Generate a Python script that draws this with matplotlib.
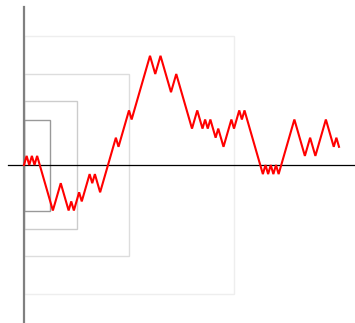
import matplotlib
matplotlib.use("Agg")
import matplotlib.pyplot as plt
from matplotlib.patches import Rectangle

# turning points of the walk (step index, position); each step is +-1
turn_steps = [0, 1, 2, 3, 4, 5, 11, 14, 17, 18, 19, 21, 22, 25, 26, 27, 29,
              35, 36, 40, 41, 48, 50, 52, 56, 58, 64, 66, 68, 69, 70, 71, 73,
              74, 76, 79, 80, 82, 83, 84, 91, 92, 93, 94, 95, 96, 97, 103,
              107, 109, 111, 115, 118, 119, 120]
turn_values = [0, 1, 0, 1, 0, 1, -5, -2, -5, -4, -5, -3, -4, -1, -2, -1, -3,
               3, 2, 6, 5, 12, 10, 12, 8, 10, 4, 6, 4, 5, 4, 5, 3,
               4, 2, 5, 4, 6, 5, 6, -1, 0, -1, 0, -1, 0, -1, 5,
               1, 3, 1, 5, 2, 3, 2]

# envelope boxes: number of steps and half height
box_steps = [80, 40, 20, 10]
box_half = [14.14, 10.0, 7.07, 5.0]
box_colors = ["#eeeeee", "#dddddd", "#cccccc", "#999999"]


def main():
    fig = plt.figure(figsize=(3.55, 3.23), dpi=100)
    ax = fig.add_axes([0, 0, 1, 1])
    ax.set_xlim(-24 / 2.625, 331 / 2.625)
    ax.set_ylim(-158 / 9.1, 165 / 9.1)
    ax.axis("off")

    for n, h, c in zip(box_steps, box_half, box_colors):
        ax.add_patch(Rectangle((0, -h), n, 2 * h, fill=False,
                               edgecolor=c, linewidth=1.0))

    ax.plot([-6.1, 130], [0, 0], color="black", linewidth=0.9)
    ax.plot([0, 0], [-20, 17.4], color="#808080", linewidth=1.6)

    ax.plot(turn_steps, turn_values, color="red", linewidth=1.5,
            solid_joinstyle="miter")

    fig.savefig("out.png", dpi=100)


if __name__ == "__main__":
    main()
